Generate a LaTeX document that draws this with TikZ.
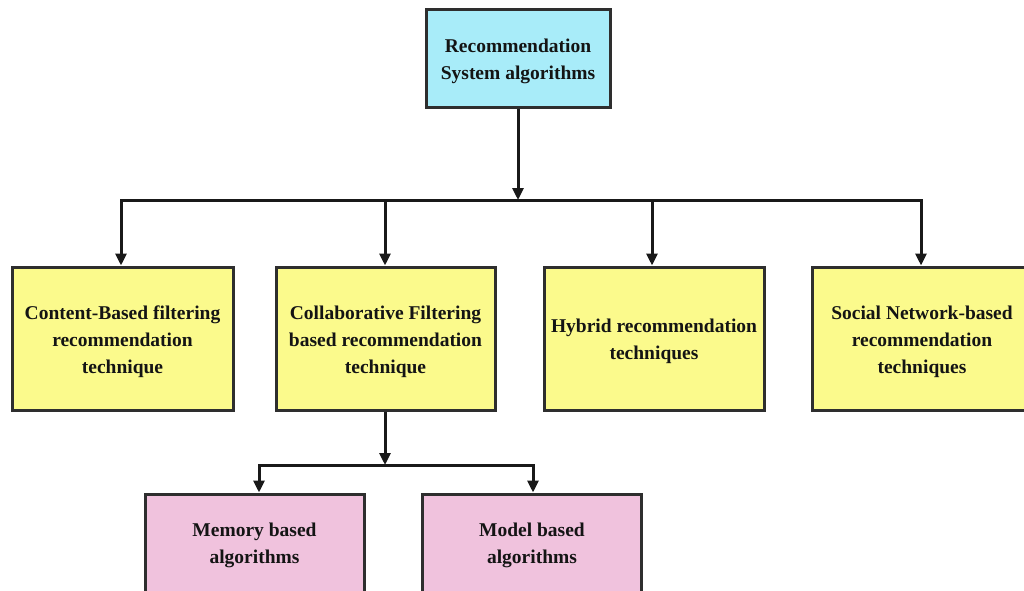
\documentclass[tikz,border=0pt]{standalone}
\usepackage{fontspec}
\setmainfont{Liberation Serif}
\usetikzlibrary{arrows.meta}
\definecolor{topfill}{HTML}{A8ECF9}
\definecolor{midfill}{HTML}{FBFA8C}
\definecolor{lowfill}{HTML}{F0C2DD}
\definecolor{edge}{HTML}{2E2E2E}
\begin{document}
\begin{tikzpicture}[x=1pt,y=-1pt,
  box/.style={draw=edge,line width=3pt,inner sep=0pt},
  boxtext/.style={align=center,inner sep=0pt,
    font=\fontsize{19.5}{27}\selectfont\bfseries,text=black!92},
  topbox/.style={box,fill=topfill,minimum width=184pt,minimum height=98pt},
  midbox/.style={box,fill=midfill,minimum width=220pt,minimum height=143pt},
  lowbox/.style={box,fill=lowfill,minimum width=219pt,minimum height=100pt},
  link/.style={draw=black!90,line width=3pt},
  arrowlink/.style={link,-{Triangle[width=11pt,length=12pt]}}]
\useasboundingbox[clip] (0,0) rectangle (1024,590);

% root
\node[topbox] (root) at (518,58) {};
\node[boxtext] (rootT) at ([yshift=-3pt]root.center) {Recommendation\\System algorithms};

% families of techniques
\node[midbox,minimum width=221pt] (cb) at (122.5,338.5) {};
\node[boxtext] (cbT) at ([yshift=-3pt]cb.center) {Content-Based filtering\\recommendation\\technique};
\node[midbox,minimum width=219pt] (cf) at (385.5,338.5) {};
\node[boxtext] (cfT) at ([yshift=-3pt]cf.center) {Collaborative Filtering\\based recommendation\\technique};
\node[midbox] (hy) at (654,338.5) {};
\node[boxtext] (hyT) at ([yshift=-3pt]hy.center) {Hybrid recommendation\\techniques};
\node[midbox] (sn) at (922,338.5) {};
\node[boxtext] (snT) at ([yshift=-3pt]sn.center) {Social Network-based\\recommendation\\techniques};

% collaborative filtering sub-types
\node[lowbox] (mem) at (254.5,544) {};
\node[boxtext] (memT) at ([yshift=-1pt]mem.center) {Memory based\\algorithms};
\node[lowbox] (mod) at (532,544) {};
\node[boxtext] (modT) at ([yshift=-1pt]mod.center) {Model based\\algorithms};

% upper bus
\coordinate (busL) at (121,200);
\coordinate (busR) at (921,200);
\coordinate (busA) at (385,200);
\coordinate (busB) at (652,200);
\draw[arrowlink] (root.south) -- (root.south |- busL);
\draw[link,line cap=rect] (busL) -- (busR);
\draw[arrowlink] (busL) -- (busL |- cb.north);
\draw[arrowlink] (busA) -- (busA |- cf.north);
\draw[arrowlink] (busB) -- (busB |- hy.north);
\draw[arrowlink] (busR) -- (busR |- sn.north);

% lower bus
\coordinate (lowL) at (259,465);
\coordinate (lowR) at (533,465);
\coordinate (lowM) at (385,465);
\draw[arrowlink] (cf.south -| lowM) -- (lowM);
\draw[link,line cap=rect] (lowL) -- (lowR);
\draw[arrowlink] (lowL) -- (lowL |- mem.north);
\draw[arrowlink] (lowR) -- (lowR |- mod.north);
\end{tikzpicture}
\end{document}
